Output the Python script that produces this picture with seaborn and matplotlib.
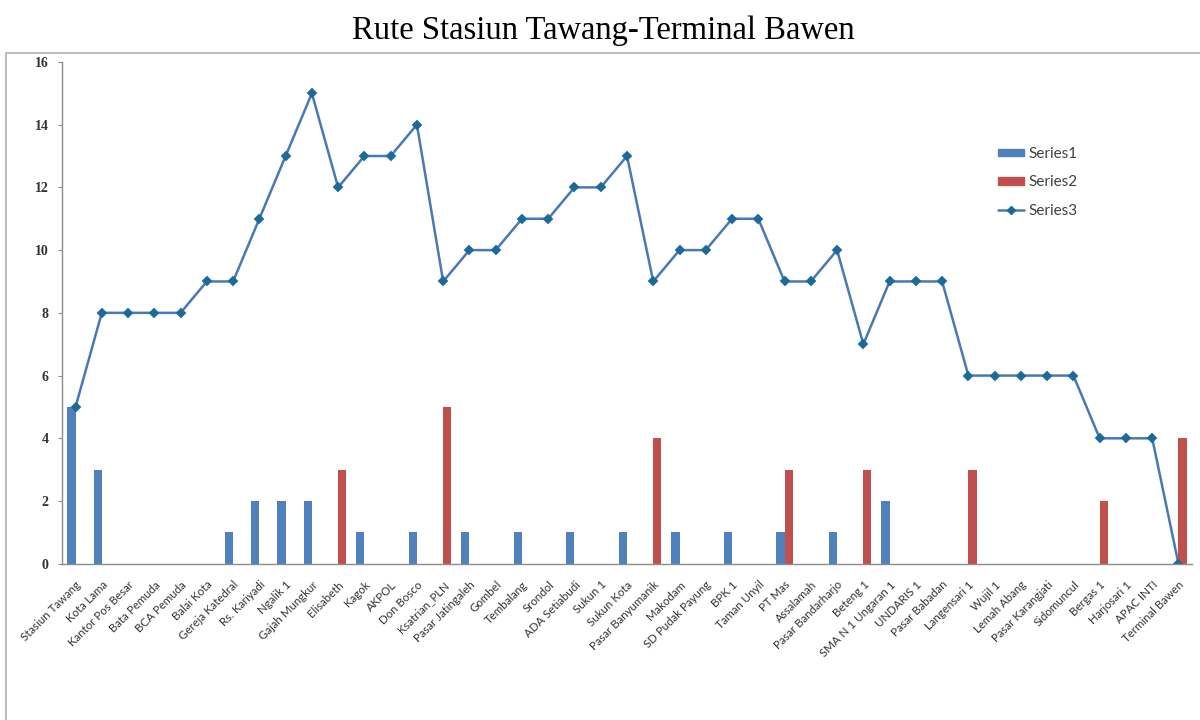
import pandas as pd
import seaborn as sns
import matplotlib.pyplot as plt
from matplotlib.patches import Rectangle
from matplotlib.lines import Line2D
from matplotlib.patches import Patch

# data
stops = ['Stasiun Tawang', 'Kota Lama', 'Kantor Pos Besar', 'Bata Pemuda', 'BCA Pemuda',
         'Balai Kota', 'Gereja Katedral', 'Rs. Kariyadi', 'Ngalik 1', 'Gajah Mungkur',
         'Elisabeth', 'Kagok', 'AKPOL', 'Don Bosco', 'Ksatrian_PLN', 'Pasar Jatingaleh',
         'Gombel', 'Tembalang', 'Srondol', 'ADA Setiabudi', 'Sukun 1', 'Sukun Kota',
         'Pasar Banyumanik', 'Makodam', 'SD Pudak Payung', 'BPK 1', 'Taman Unyil', 'PT Mas',
         'Assalamah', 'Pasar Bandarharjo', 'Beteng 1', 'SMA N 1 Ungaran 1', 'UNDARIS 1',
         'Pasar Babadan', 'Langensari 1', 'Wujil 1', 'Lemah Abang', 'Pasar Karangjati',
         'Sidomuncul', 'Bergas 1', 'Harjosari 1', 'APAC INTI', 'Terminal Bawen']
series1 = [5, 3, 0, 0, 0, 0, 1, 2, 2, 2, 0, 1, 0, 1, 0, 1, 0, 1, 0, 1, 0, 1,
           0, 1, 0, 1, 0, 1, 0, 1, 0, 2, 0, 0, 0, 0, 0, 0, 0, 0, 0, 0, 0]
series2 = [0, 0, 0, 0, 0, 0, 0, 0, 0, 0, 3, 0, 0, 0, 5, 0, 0, 0, 0, 0, 0, 0,
           4, 0, 0, 0, 0, 3, 0, 0, 3, 0, 0, 0, 3, 0, 0, 0, 0, 2, 0, 0, 4]
series3 = [5, 8, 8, 8, 8, 9, 9, 11, 13, 15, 12, 13, 13, 14, 9, 10, 10, 11, 11, 12, 12, 13,
           9, 10, 10, 11, 11, 9, 9, 10, 7, 9, 9, 9, 6, 6, 6, 6, 6, 4, 4, 4, 0]

blue = '#4F81BD'
red = '#C0504D'
line_col = '#4A78B4'
marker_col = '#1C6A98'

df_bar = pd.DataFrame({'stop': stops * 2,
                       'value': series1 + series2,
                       'series': ['Series1'] * len(stops) + ['Series2'] * len(stops)})
df_line = pd.DataFrame({'stop': stops, 'value': series3})

sns.set_style('white')
fig = plt.figure(figsize=(12, 7.2), dpi=100)
ax = fig.add_axes([0.052, 0.217, 0.941, 0.697])

sns.barplot(data=df_bar, x='stop', y='value', hue='series', order=stops,
            palette={'Series1': blue, 'Series2': red}, width=0.62, gap=0,
            errorbar=None, saturation=1, legend=False, linewidth=0, ax=ax)
sns.pointplot(data=df_line, x='stop', y='value', order=stops, color=line_col,
              markers='D', markersize=4, linewidth=1.8, errorbar=None, ax=ax)
for ln in ax.lines:
    ln.set_markerfacecolor(marker_col)
    ln.set_markeredgecolor(marker_col)

ax.set_xlim(-0.5, len(stops) - 0.5)
ax.set_ylim(0, 16)
ax.set_yticks(range(0, 17, 2))
ax.set_xlabel('')
ax.set_ylabel('')

for s in ['top', 'right']:
    ax.spines[s].set_visible(False)
for s in ['left', 'bottom']:
    ax.spines[s].set_color('#8C8C8C')
    ax.spines[s].set_linewidth(1)

ax.set_xticks([i + 0.5 for i in range(-1, len(stops))], minor=True)
ax.tick_params(axis='x', which='major', length=0, pad=11)
ax.tick_params(axis='x', which='minor', length=4, color='#8C8C8C', direction='out')
ax.tick_params(axis='y', length=3, color='#8C8C8C', direction='out', left=True, pad=7)
ax.set_xticks(range(len(stops)))
ax.set_xticklabels(stops, rotation=45, ha='right', rotation_mode='anchor',
                   fontsize=8.3, family='Lato', color='#333333')
for lab in ax.get_yticklabels():
    lab.set_family('Liberation Serif')
    lab.set_fontweight('bold')
    lab.set_fontsize(10)
    lab.set_color('#333333')

handles = [Patch(color=blue), Patch(color=red),
           Line2D([], [], color=line_col, marker='D', markersize=4, lw=1.8,
                  markerfacecolor=marker_col, markeredgecolor=marker_col)]
fig.legend(handles, ['Series1', 'Series2', 'Series3'], loc='upper left',
           bbox_to_anchor=(0.82, 0.815), frameon=False, handlelength=1.75,
           handleheight=0.4, labelspacing=0.95, handletextpad=0.25,
           prop={'family': 'Lato', 'size': 11}, labelcolor='#404040')

# outer chart frame
fig.patches.append(Rectangle((0.005, -0.01), 1.0, 0.936, transform=fig.transFigure,
                             fill=False, edgecolor='#BDBDBD', linewidth=1.5))

fig.text(0.503, 0.957, 'Rute Stasiun Tawang-Terminal Bawen', ha='center', va='center',
         fontsize=23.5, family='Liberation Serif', color='black')

fig.savefig('out.png', dpi=100)
